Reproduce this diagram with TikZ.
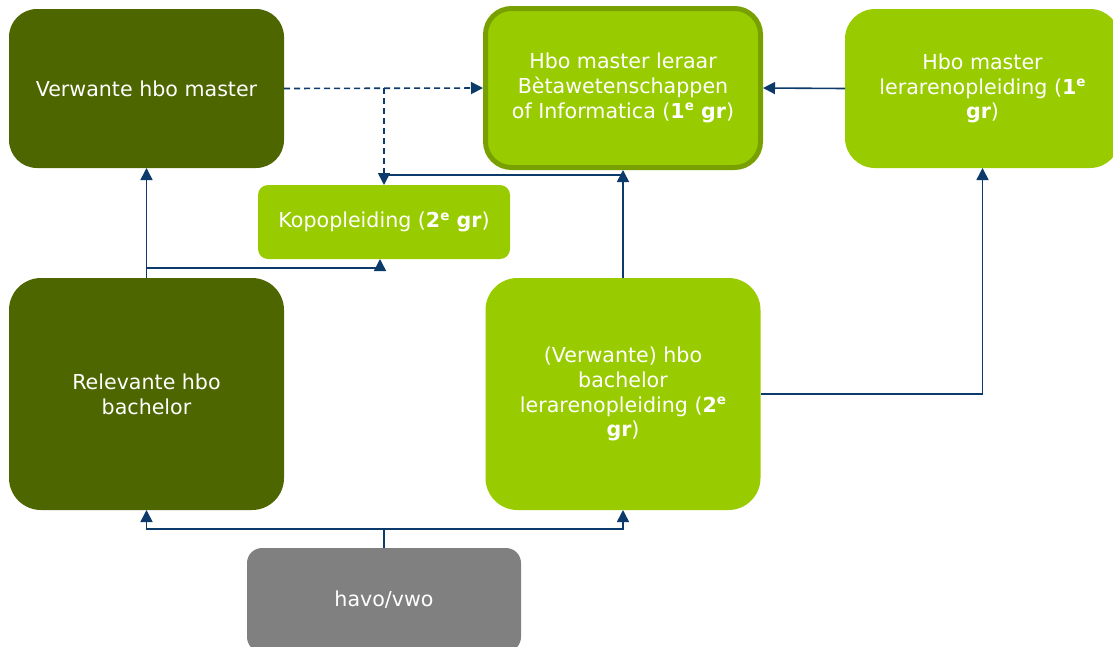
\documentclass[tikz,border=0pt]{standalone}
\usepackage{fontspec}
\setmainfont{DejaVu Sans}
\usetikzlibrary{arrows.meta}
\definecolor{darkolive}{HTML}{4D6600}
\definecolor{limegreen}{HTML}{99CC00}
\definecolor{limeborder}{HTML}{77A000}
\definecolor{havogray}{HTML}{808080}
\definecolor{linkblue}{HTML}{0B3A6B}
\newcommand{\supe}{\raisebox{7.5pt}{\fontsize{13.5pt}{13.5pt}\selectfont e}}
\begin{document}
\begin{tikzpicture}[x=1pt,y=-1pt,
  box/.style={text=white, align=center, inner sep=0pt, outer sep=0pt,
    font=\fontsize{20.6pt}{24.8pt}\selectfont},
  darkbox/.style={box, fill=darkolive, rounded corners=28pt},
  lightbox/.style={box, fill=limegreen, rounded corners=30pt},
  link/.style={draw=linkblue, line width=1.6pt},
  dashlink/.style={link, dash pattern=on 6pt off 4pt},
  arr/.style={-{Triangle[length=12pt,width=12pt]}}]
\useasboundingbox (0,0) rectangle (1113,646);

\node[darkbox, minimum width=275pt, minimum height=159pt] (vmaster) at (146.5,88.5) {Verwante hbo master};
\node[box, fill=limegreen, draw=limeborder, line width=5pt, rounded corners=26pt,
      minimum width=275pt, minimum height=159pt, outer sep=2.5pt] (master) at (623,88)
  {Hbo master leraar\\Bètawetenschappen\\of Informatica (\textbf{1\supe\ gr})};
\node[lightbox, minimum width=275pt, minimum height=159pt] (lmaster) at (982.5,88.5)
  {Hbo master\\lerarenopleiding (\textbf{1\supe}\\\textbf{gr})};
\node[box, fill=limegreen, rounded corners=10pt, minimum width=252pt, minimum height=74pt] (kopo) at (384,222)
  {Kopopleiding (\textbf{2\supe\ gr})};
\node[darkbox, rounded corners=32pt, minimum width=275pt, minimum height=232pt] (rbach) at (146.5,394)
  {Relevante hbo\\bachelor};
\node[lightbox, rounded corners=32pt, minimum width=275pt, minimum height=232pt] (lbach) at (623,394)
  {(Verwante) hbo\\bachelor\\lerarenopleiding (\textbf{2\supe}\\\textbf{gr})};
\node[box, fill=havogray, rounded corners=15pt, minimum width=274pt, minimum height=104pt] (havo) at (384,600)
  {havo/vwo};

\coordinate (d1) at (384,88);
\coordinate (j1) at (623,175);
\coordinate (j2) at (147,268);
\coordinate (j3) at (384,529);

\draw[dashlink, arr] (vmaster.east) -- (master.west);
\draw[dashlink, arr] (d1) -- (kopo.north);
\draw[link, arr] (lbach.north) -- (master.south);
\draw[link] (j1) -- (kopo.north |- j1);
\draw[link, arr] (rbach.north) -- (vmaster.south);
\draw[link, arr] (j2) -| ([xshift=-4pt]kopo.south);
\draw[link, arr] (lbach.east) -| (lmaster.south);
\draw[link, arr] (lmaster.west) -- (master.east);
\draw[link] (havo.north) -- (j3);
\draw[link, arr] (j3) -| (rbach.south);
\draw[link, arr] (j3) -| (lbach.south);
\end{tikzpicture}
\end{document}
